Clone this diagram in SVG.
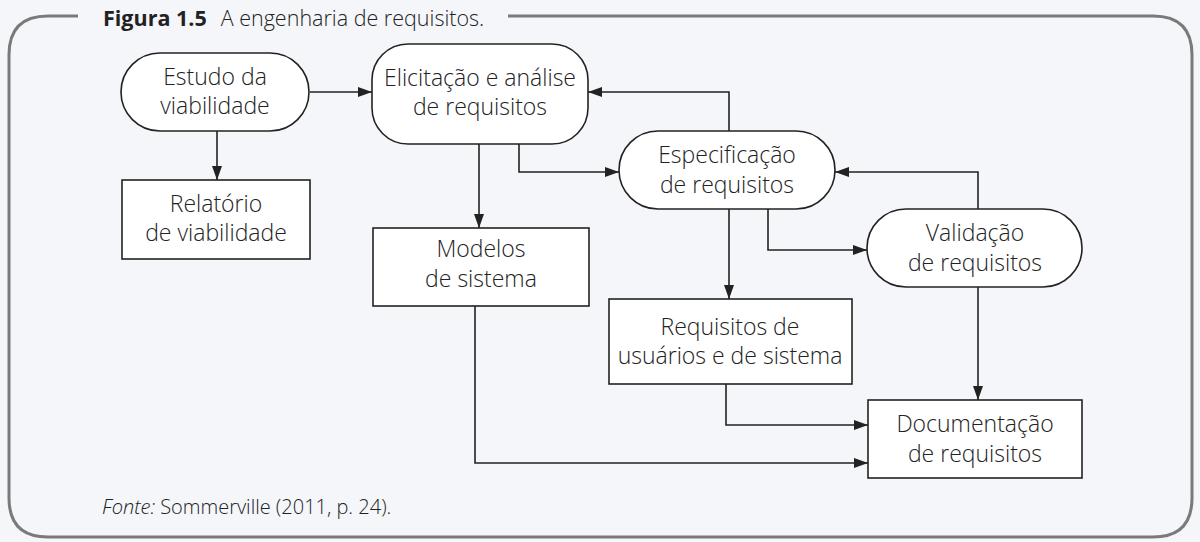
<svg xmlns="http://www.w3.org/2000/svg" width="1200" height="542" viewBox="0 0 1200 542">
<style>
.bg{fill:#f5f6fa}
.frame{fill:none;stroke:#7a7a7a;stroke-width:3}
.node{fill:#fff;stroke:#222;stroke-width:1.6}
.t{font-family:"Open Sans","Noto Sans",sans-serif;font-size:23px;fill:#222;text-anchor:middle;font-weight:300}
.c{fill:none;stroke:#222;stroke-width:1.6}
.title{font-family:"Open Sans","Noto Sans",sans-serif;font-size:21.5px;fill:#222}
.src{font-family:"Open Sans","Noto Sans",sans-serif;font-size:20px;fill:#222;font-weight:300}
</style>
<defs>
<marker id="ah" viewBox="0 0 14 10" refX="14" refY="5" markerWidth="14" markerHeight="10" markerUnits="userSpaceOnUse" orient="auto">
<path d="M0,0 L14,5 L0,10 z" fill="#222"/>
</marker>
</defs>
<rect class="bg" x="0" y="0" width="1200" height="542"/>
<path class="frame" d="M78,16 L48,16 Q9,16 9,55 L9,498 Q9,537 48,537 L1153,537 Q1192,537 1192,498 L1192,55 Q1192,16 1153,16 L508,16"/>
<text class="title" x="103" y="26"><tspan font-weight="700">Figura 1.5</tspan><tspan dx="14" font-weight="300">A engenharia de requisitos.</tspan></text>

<g id="connectors">
<path class="c" d="M310,92 L372,92" marker-end="url(#ah)"/>
<path class="c" d="M217,131 L217,180" marker-end="url(#ah)"/>
<path class="c" d="M479,144 L479,228" marker-end="url(#ah)"/>
<path class="c" d="M519,144 L519,172 L619,172" marker-end="url(#ah)"/>
<path class="c" d="M729,131 L729,92 L588,92" marker-end="url(#ah)"/>
<path class="c" d="M978,209 L978,172 L835,172" marker-end="url(#ah)"/>
<path class="c" d="M768,209 L768,250 L867,250" marker-end="url(#ah)"/>
<path class="c" d="M729,209 L729,299" marker-end="url(#ah)"/>
<path class="c" d="M726,384 L726,425 L868,425" marker-end="url(#ah)"/>
<path class="c" d="M978,287 L978,400" marker-end="url(#ah)"/>
<path class="c" d="M475,306 L475,463 L868,463" marker-end="url(#ah)"/>
</g>

<g id="estudo">
<rect class="node" x="121" y="53" width="188" height="78" rx="39"/>
<text class="t" x="215" y="85">Estudo da</text>
<text class="t" x="215" y="114">viabilidade</text>
</g>
<g id="relatorio">
<rect class="node" x="122" y="180" width="188" height="79"/>
<text class="t" x="216" y="212">Relatório</text>
<text class="t" x="216" y="241">de viabilidade</text>
</g>
<g id="elicitacao">
<rect class="node" x="372" y="44" width="216" height="100" rx="36"/>
<text class="t" x="480" y="86">Elicitação e análise</text>
<text class="t" x="480" y="115">de requisitos</text>
</g>
<g id="modelos">
<rect class="node" x="373" y="228" width="216" height="78"/>
<text class="t" x="481" y="257">Modelos</text>
<text class="t" x="481" y="287">de sistema</text>
</g>
<g id="especificacao">
<rect class="node" x="619" y="131" width="216" height="78" rx="39"/>
<text class="t" x="727" y="163">Especificação</text>
<text class="t" x="727" y="193">de requisitos</text>
</g>
<g id="validacao">
<rect class="node" x="867" y="209" width="215" height="78" rx="39"/>
<text class="t" x="975" y="241">Validação</text>
<text class="t" x="975" y="271">de requisitos</text>
</g>
<g id="requisitos">
<rect class="node" x="609" y="299" width="243" height="85"/>
<text class="t" x="730" y="335">Requisitos de</text>
<text class="t" x="730" y="364">usuários e de sistema</text>
</g>
<g id="documentacao">
<rect class="node" x="868" y="400" width="214" height="78"/>
<text class="t" x="975" y="432">Documentação</text>
<text class="t" x="975" y="462">de requisitos</text>
</g>
<text class="src" x="102" y="514"><tspan font-style="italic">Fonte:</tspan> Sommerville (2011, p. 24).</text>
</svg>
